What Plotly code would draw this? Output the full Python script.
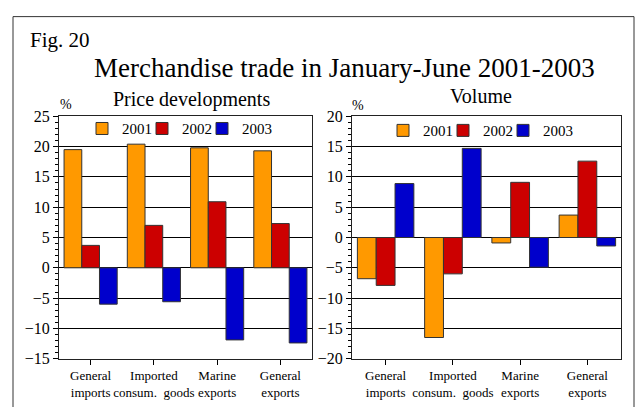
import plotly.graph_objects as go

categories = ["General<br>imports", "Imported<br>consum.  goods", "Marine<br>exports", "General<br>exports"]
years = ["2001", "2002", "2003"]
colors = ["#FF9900", "#CC0000", "#0000CC"]

price_2001 = [19.5, 20.4, 19.8, 19.3]
price_2002 = [3.7, 7.0, 10.9, 7.3]
price_2003 = [-6.0, -5.6, -11.9, -12.4]

volume_2001 = [-6.8, -16.5, -0.9, 3.7]
volume_2002 = [-7.9, -6.0, 9.1, 12.6]
volume_2003 = [8.9, 14.7, -4.9, -1.4]

price = [price_2001, price_2002, price_2003]
volume = [volume_2001, volume_2002, volume_2003]

W, H = 637, 407
FONT = "Liberation Serif, Times New Roman, serif"


def px(x):
    return x / W


def py(y):
    return 1 - y / H


def serif(size):
    return dict(family=FONT, size=size, color="black")


fig = go.Figure()
for yr, col, vals in zip(years, colors, price):
    fig.add_trace(go.Bar(x=categories, y=vals, name=yr, marker_color=col,
                         marker_line=dict(color="#333333", width=1),
                         xaxis="x", yaxis="y", legend="legend"))
for yr, col, vals in zip(years, colors, volume):
    fig.add_trace(go.Bar(x=categories, y=vals, name=yr, marker_color=col,
                         marker_line=dict(color="#333333", width=1),
                         xaxis="x2", yaxis="y2", legend="legend2"))
# empty legend entries so the last year label is not clipped by the legend box
for ax, ay, lg in [("x", "y", "legend"), ("x2", "y2", "legend2")]:
    fig.add_trace(go.Scatter(x=[None], y=[None], name=" ", mode="markers",
                             marker=dict(color="rgba(0,0,0,0)", size=1),
                             xaxis=ax, yaxis=ay, legend=lg, hoverinfo="skip"))

axis_common = dict(showline=True, linecolor="#222222", linewidth=1, mirror=True)
yaxis_common = dict(axis_common, showgrid=True, gridcolor="#000000", gridwidth=1,
                    zeroline=True, zerolinecolor="#000000", zerolinewidth=1,
                    dtick=5, ticks="outside", ticklen=5, tickcolor="#000000",
                    minor=dict(dtick=1, ticks="outside", ticklen=3, tickcolor="#000000", showgrid=False),
                    tickfont=serif(16))
xaxis_common = dict(axis_common, ticks="outside", ticklen=5, tickcolor="#000000",
                    tickangle=0, tickfont=serif(13))

legend_common = dict(orientation="h", xanchor="left", yanchor="middle",
                     font=serif(15), bgcolor="rgba(0,0,0,0)",
                     itemwidth=30, traceorder="normal", entrywidth=15)

ann = dict(xref="paper", yref="paper", showarrow=False, yanchor="middle")

fig.update_layout(
    width=W, height=H,
    margin=dict(l=0, r=0, t=0, b=0),
    paper_bgcolor="white", plot_bgcolor="white",
    font=serif(13),
    barmode="group", bargap=0.16, bargroupgap=0,
    xaxis=dict(xaxis_common, domain=[px(59), px(312)], anchor="y"),
    yaxis=dict(yaxis_common, domain=[py(366), py(113)], range=[-15, 25], anchor="x"),
    xaxis2=dict(xaxis_common, domain=[px(352), px(621)], anchor="y2"),
    yaxis2=dict(yaxis_common, domain=[py(366), py(113)], range=[-20, 20], anchor="x2"),
    legend=dict(legend_common, x=px(82), y=py(126)),
    legend2=dict(legend_common, x=px(383), y=py(128)),
    shapes=[dict(type="rect", xref="paper", yref="paper",
                 x0=px(13), x1=px(634), y0=-0.05, y1=py(9),
                 line=dict(color="#333333", width=1))],
    annotations=[
        dict(ann, text="Fig. 20", x=px(28), y=py(33), xanchor="left", font=serif(21)),
        dict(ann, text="Merchandise trade in January-June 2001-2003", x=px(344), y=py(63),
             xanchor="center", font=serif(27)),
        dict(ann, text="Price developments", x=px(191), y=py(95), xanchor="center",
             font=serif(20)),
        dict(ann, text="Volume", x=px(481), y=py(92), xanchor="center", font=serif(20)),
        dict(ann, text="%", x=px(65.5), y=py(101), xanchor="center", font=serif(14)),
        dict(ann, text="%", x=px(358), y=py(102), xanchor="center", font=serif(14)),
    ],
)

fig.write_html("out.html", config={"displayModeBar": False},
               post_script="document.body.style.margin='0';document.body.style.overflow='hidden';")
